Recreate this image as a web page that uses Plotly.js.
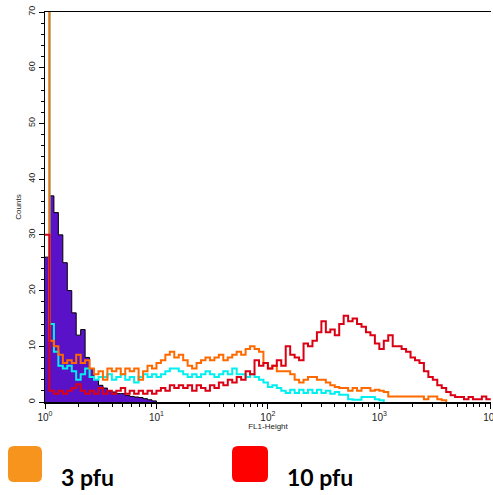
<!DOCTYPE html>
<html>
<head>
<meta charset="utf-8">
<script src="https://cdn.plot.ly/plotly-3.0.1.min.js"></script>
<style>html,body{margin:0;padding:0;background:#fff;}#chart{width:493px;height:495px;}</style>
</head>
<body>
<div id="chart"></div>
<script>
// Histogram channel values (counts per log bin; bin width = 0.04 decade, starting at 10^0)
const binStepDecades = 0.04;
const controlCounts = [26,37,34,30,25,20,16,12,13,8,6,4,3,2.5,2,1.8,1.5,1.5,1.2,1,0.9,0.8,0.6,0.4,0.2,0];
const cyanCounts = [95,14,9,6.5,6,6.5,5.5,4,5,6,4.5,4,4.5,4.5,5,4,4.5,5,4,4.5,3.5,4.5,5,4.5,5,4.5,5,5.5,6,6,5.5,5,4.5,5,4.5,5,5.5,5,4.5,5,5.5,5,6,5,5,4.5,5,4.5,4,3.5,2.7,3,2.5,2,1.6,2.2,1.6,2.2,1.6,2.2,1.6,2.2,1.6,2,1.5,1.8,1.3,1.3,0.5,0.4,0.4,0.9,0.9,0.9,0.5,0.3,0];
const pfu3Counts = [95,11,10,8.5,7,7.5,7,8.5,7,7.5,6,5,5.5,4,6,5.5,6,5,6,5.5,6,4,5.5,6.5,6,7,7.5,8.5,9,8,8.5,7.5,6.5,6,7,7.5,8,7.5,8,8.5,7.5,8,8.5,9,8.5,9.5,10,9.5,9,7,6,6.5,5.5,5.5,5.5,5,4,3.5,4,4.5,4.5,4,4,3.5,3,2.7,2.5,2.5,2,2.5,2,2.5,2.5,2,2.2,2,1.8,1,1,1,1,1,1,1,1,0.5,1,1,0.5,0.3,0];
const pfu10Counts = [30,2,1.5,2,1.5,2,2.5,3.2,2,1.5,2,1.5,2.5,1.5,2,1.5,2,2.5,1.5,2,1.5,2,1.5,2,1.5,2,2.5,2,3,2.5,3,2.5,3,2,3,2.5,2,3,2.5,3.5,3,4,3.5,4.5,4,5.5,5,7.5,6.5,7,6,6.5,7.5,6.5,10,8.5,8,7.5,10.5,10,11,12.5,14.5,12.5,13,12,14,15.5,14.5,15,14,13.5,12.5,12,10.5,9.5,11,12,10,10,9.5,9,8,7.5,7,5.5,4.5,4,3,2.5,1.8,1.2,0.9,0.9,0.5,0.9,0.5,0.5,1,0.5,0.5];

const xTickVals = [1,10,100,1000,10000];
const xTickText = ['10<sup>0</sup>','10<sup>1</sup>','10<sup>2</sup>','10<sup>3</sup>','10<sup>4</sup>'];
const legendLabels = ['3 pfu','10 pfu'];

function binX(arr){ return arr.map((_,i)=>Math.pow(10, i*binStepDecades)); }

const traces = [
  {x: binX(controlCounts), y: controlCounts, type:'scatter', mode:'lines', line:{shape:'hv', color:'#000000', width:1}, fill:'tozeroy', fillcolor:'#5a12c8', hoverinfo:'skip'},
  {x: binX(cyanCounts), y: cyanCounts, type:'scatter', mode:'lines', line:{shape:'hv', color:'#00f0f0', width:2}, hoverinfo:'skip'},
  {x: binX(pfu3Counts), y: pfu3Counts, type:'scatter', mode:'lines', line:{shape:'hv', color:'#ff6a00', width:2}, hoverinfo:'skip'},
  {x: binX(pfu10Counts), y: pfu10Counts, type:'scatter', mode:'lines', line:{shape:'hv', color:'#dc0014', width:2}, hoverinfo:'skip'}
];

// pixel -> paper helpers (plot area: left 45, right 491, top 12, bottom 402)
const L=45, R=491, T=12, B=402;
const PX = p => (p-L)/(R-L);
const PY = p => (B-p)/(B-T);
function roundRect(x0,y0,x1,y1,r){
  const pts = [
    ['M',x0+r,y0],['L',x1-r,y0],['Q',x1,y0,x1,y0+r],['L',x1,y1-r],['Q',x1,y1,x1-r,y1],
    ['L',x0+r,y1],['Q',x0,y1,x0,y1-r],['L',x0,y0+r],['Q',x0,y0,x0+r,y0]
  ];
  return pts.map(p=>{
    let s=p[0]+' ';
    for(let k=1;k<p.length;k+=2){ s += PX(p[k]).toFixed(5)+','+PY(p[k+1]).toFixed(5)+' '; }
    return s;
  }).join('')+'Z';
}

const minorVals = [];
[1,10,100,1000].forEach(d=>{ for(let m=2;m<=9;m++) minorVals.push(d*m); });

const layout = {
  width:493, height:495,
  margin:{l:45, r:2, t:12, b:93, pad:0},
  paper_bgcolor:'#ffffff', plot_bgcolor:'#ffffff',
  showlegend:false,
  xaxis:{
    type:'log', range:[0,4.002], showgrid:false, zeroline:false,
    showline:true, linecolor:'#000', linewidth:1.5, mirror:true,
    ticks:'outside', ticklen:5, tickwidth:1, tickcolor:'#000',
    tickvals:xTickVals, ticktext:xTickText, ticklabeloverflow:'allow',
    tickfont:{family:'Liberation Sans, Arial', size:10, color:'#222'},
    minor:{tickvals:minorVals, ticks:'outside', ticklen:3, tickcolor:'#000', tickwidth:1},
    title:{text:'FL1-Height', font:{family:'Liberation Sans, Arial', size:8, color:'#222'}, standoff:2}
  },
  yaxis:{
    range:[0,70], showgrid:false, zeroline:false,
    showline:true, linecolor:'#000', linewidth:1.5,
    ticks:'outside', ticklen:5, tickwidth:1, tickcolor:'#000',
    dtick:10, tickangle:-90,
    tickfont:{family:'Liberation Sans, Arial', size:9, color:'#222'},
    minor:{dtick:2, ticks:'outside', ticklen:3, tickcolor:'#000', tickwidth:1},
    title:{text:'Counts', font:{family:'Liberation Sans, Arial', size:8, color:'#222'}, standoff:4}
  },
  shapes:[
    {type:'path', xref:'paper', yref:'paper', path:roundRect(8,446,42,482,6), fillcolor:'#f7941d', line:{width:0}},
    {type:'path', xref:'paper', yref:'paper', path:roundRect(232,446,268,482,6), fillcolor:'#ff0000', line:{width:0}}
  ],
  annotations:[
    {xref:'paper', yref:'paper', x:PX(59), y:PY(477), xanchor:'left', yanchor:'middle', text:'<b>'+legendLabels[0]+'</b>', showarrow:false, font:{family:'Lato, Liberation Sans', size:23, color:'#000'}},
    {xref:'paper', yref:'paper', x:PX(285), y:PY(477), xanchor:'left', yanchor:'middle', text:'<b>'+legendLabels[1]+'</b>', showarrow:false, font:{family:'Lato, Liberation Sans', size:23, color:'#000'}}
  ]
};

Plotly.newPlot('chart', traces, layout, {displayModeBar:false, staticPlot:true});
</script>
</body>
</html>
